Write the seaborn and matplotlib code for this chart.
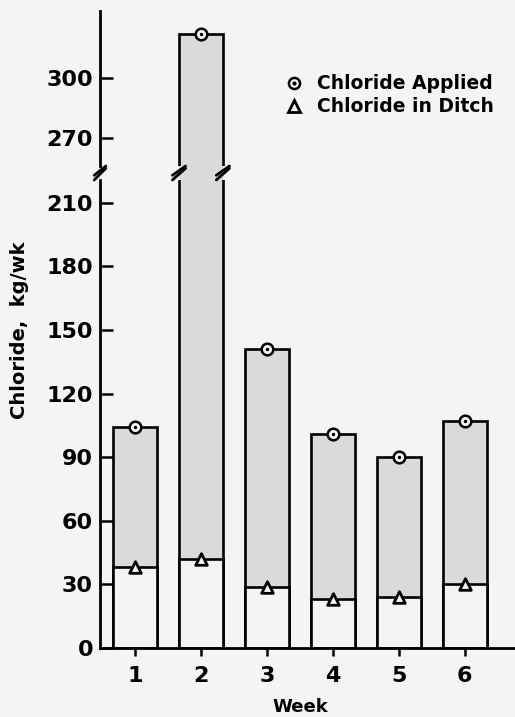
import numpy as np
import pandas as pd
import matplotlib
matplotlib.use("Agg")
import matplotlib.pyplot as plt
import seaborn as sns
from matplotlib.lines import Line2D
import matplotlib.transforms as mtransforms

# ---- data ----
weeks = ["1", "2", "3", "4", "5", "6"]
chloride_applied = [104, 322, 141, 101, 90, 107]
chloride_ditch = [38, 42, 29, 23, 24, 30]
lower_ticks = [0, 30, 60, 90, 120, 150, 180, 210]
upper_ticks = [270, 300]

df = pd.DataFrame({"week": weeks, "applied": chloride_applied, "ditch": chloride_ditch})

sns.set_theme(style="white")
plt.rcParams["font.family"] = ["DejaVu Sans"]
plt.rcParams["text.color"] = "black"
plt.rcParams["xtick.color"] = "black"
plt.rcParams["ytick.color"] = "black"
plt.rcParams["xtick.labelcolor"] = "black"
plt.rcParams["ytick.labelcolor"] = "black"

BG = "#f4f4f4"
FILL = "#dadada"
W, H = 515, 717
fig = plt.figure(figsize=(W / 100, H / 100), dpi=100, facecolor=BG)

left = 100 / W
LO_TOP, HI_BOT = 220.7, 256
ax_lo = fig.add_axes([left, (H - 648) / H, 1 - left, (648 - 180) / H])
ax_hi = fig.add_axes([left, (H - 166) / H, 1 - left, (166 - 11) / H])
ax_gap = fig.add_axes([left, (H - 180) / H, 1 - left, 14 / H], zorder=-1)

bar_w = 0.665

# gap filler between the two axis segments: fill only, no outline
sns.barplot(data=df, x="week", y="applied", color=FILL, width=bar_w,
            linewidth=0, saturation=1, ax=ax_gap)
ax_gap.set_xlim(-0.53, 5.76)
ax_gap.set_ylim(LO_TOP, HI_BOT)
ax_gap.axis("off")

for ax in (ax_lo, ax_hi):
    ax.set_facecolor("none")
    sns.barplot(data=df, x="week", y="applied", color=FILL, width=bar_w,
                edgecolor="black", linewidth=1.9, saturation=1, ax=ax)
    sns.barplot(data=df, x="week", y="ditch", color=BG, width=bar_w,
                edgecolor="black", linewidth=1.9, saturation=1, ax=ax)
    # markers
    sns.scatterplot(data=df, x="week", y="applied", marker="o", s=70,
                    facecolor=BG, edgecolor="black", linewidth=1.8, zorder=5, ax=ax)
    sns.scatterplot(data=df, x="week", y="applied", marker="o", s=6,
                    color="black", linewidth=0, zorder=6, ax=ax)
    sns.scatterplot(data=df, x="week", y="ditch", marker="^", s=70,
                    facecolor=BG, edgecolor="black", linewidth=2.0, zorder=5, ax=ax)
    ax.set_xlim(-0.53, 5.76)
    ax.set_xlabel("")
    ax.set_ylabel("")
    for s in ("top", "right"):
        ax.spines[s].set_visible(False)
    ax.spines["left"].set_linewidth(2.0)
    ax.spines["left"].set_color("black")
    ax.tick_params(axis="y", direction="in", length=9, width=1.8, colors="black",
                   labelsize=16, pad=5, left=True)

ax_lo.set_ylim(0, LO_TOP)
ax_lo.set_yticks(lower_ticks)
ax_lo.set_yticklabels([str(t) for t in lower_ticks], fontweight="bold", color="black")
ax_lo.spines["bottom"].set_linewidth(2.0)
ax_lo.spines["bottom"].set_color("black")
ax_lo.set_xticks(range(len(weeks)))
ax_lo.set_xticklabels(weeks, fontsize=16, fontweight="bold", color="black")
ax_lo.tick_params(axis="x", direction="out", length=6, width=1.8, colors="black",
                  pad=7, bottom=True)

ax_hi.set_ylim(HI_BOT, 333.5)
ax_hi.set_yticks(upper_ticks)
ax_hi.set_yticklabels([str(t) for t in upper_ticks], fontweight="bold", color="black")
ax_hi.spines["bottom"].set_visible(False)
ax_hi.set_xticks([])

# break marks on spine
ax_hi.plot([-0.014, 0.014], [-0.06, 0.0], transform=ax_hi.transAxes, color="black",
           lw=2.0, clip_on=False)
ax_lo.plot([-0.014, 0.014], [1.0, 1.025], transform=ax_lo.transAxes, color="black",
           lw=2.0, clip_on=False)
# break marks on week-2 bar edges
for ax, ys in ((ax_hi, (-0.06, 0.0)), (ax_lo, (1.0, 1.025))):
    tr = mtransforms.blended_transform_factory(ax.transData, ax.transAxes)
    for xe in (1 - bar_w / 2, 1 + bar_w / 2):
        ax.plot([xe - 0.1, xe + 0.1], list(ys), transform=tr, color="black",
                lw=2.0, clip_on=False, zorder=10)

# legend
h1 = (Line2D([], [], marker="o", ls="", ms=8, mfc=BG, mec="black", mew=1.8),
      Line2D([], [], marker="o", ls="", ms=2, mfc="black", mec="black"))
h2 = Line2D([], [], marker="^", ls="", ms=8, mfc=BG, mec="black", mew=2.0)
leg = ax_hi.legend([h1, h2], ["Chloride Applied", "Chloride in Ditch"],
                   loc="upper left", bbox_to_anchor=(275 / W, 1 - 65 / H),
                   bbox_transform=fig.transFigure, frameon=False,
                   prop={"size": 13.5, "weight": "bold"}, handlelength=1.0,
                   handletextpad=0.75, labelspacing=0.2, borderpad=0)
for t in leg.get_texts():
    t.set_color("black")

fig.text(20 / W, 1 - 330 / H, "Chloride,  kg/wk", rotation=90, ha="center",
         va="center", fontsize=14, fontweight="bold", color="black")
fig.text(300 / W, 1 - 707 / H, "Week", ha="center", va="center", fontsize=13,
         fontweight="bold", color="black")

fig.savefig("out.png", dpi=100, facecolor=BG)
